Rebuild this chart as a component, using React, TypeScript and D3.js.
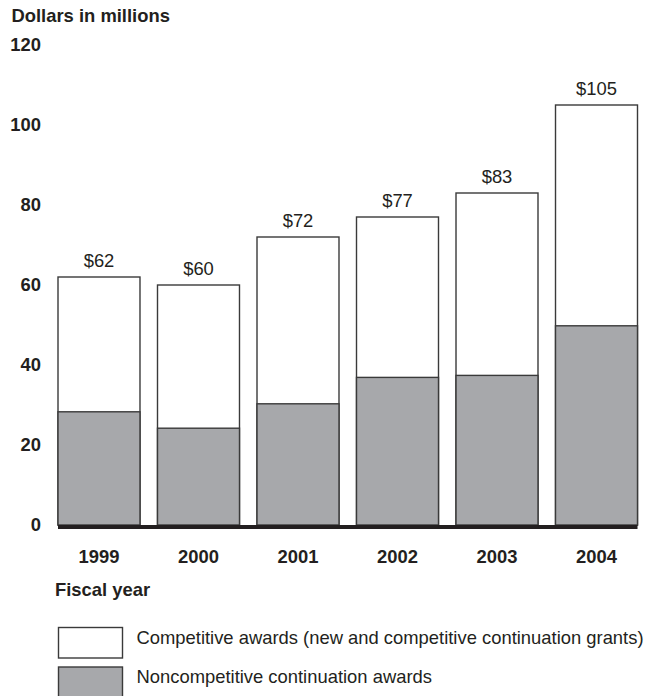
import * as React from 'react';
import * as d3 from 'd3';

const years = ['1999', '2000', '2001', '2002', '2003', '2004'];
const totals = [62, 60, 72, 77, 83, 105];
const noncompetitive = [28.3, 24.2, 30.3, 36.9, 37.4, 49.8];
const yTicks = [0, 20, 40, 60, 80, 100, 120];
const legendLabels = [
    'Competitive awards (new and competitive continuation grants)',
    'Noncompetitive continuation awards',
];

const W = 647;
const H = 696;
const FONT = '"Liberation Sans", Arial, Helvetica, sans-serif';
const FS = 18.4;
const GRAY = '#a7a8ab';
const EDGE = '#3a3a3a';
const INK = '#231f20';

export default function App() {
    const x = d3.scaleBand<string>()
        .domain(years)
        .range([58, 637.5])
        .paddingInner(0.176)
        .paddingOuter(0);

    const y = d3.scaleLinear()
        .domain([0, 120])
        .range([525, 45]);

    const bw = x.bandwidth();

    return (
        <svg width={W} height={H} style={{ position: 'absolute', left: 0, top: 0 }} fontFamily={FONT}>
            <rect width={W} height={H} fill="#fff" />

            <text x={11.5} y={22} fontSize={FS} fontWeight="bold" fill={INK}>Dollars in millions</text>

            {/* y tick labels */}
            {yTicks.map(t => (
                <text key={t} x={41} y={y(t) + 6} textAnchor="end" fontSize={FS} fontWeight="bold" fill={INK}>
                    {t}
                </text>
            ))}

            {/* stacked bars: white total with gray noncompetitive part at the bottom */}
            {years.map((yr, i) => {
                const x0 = x(yr) as number;
                return (
                    <g key={yr}>
                        <rect x={x0} y={y(totals[i])} width={bw} height={y(0) - y(totals[i])}
                            fill="#fff" stroke={EDGE} strokeWidth={1.4} />
                        <rect x={x0} y={y(noncompetitive[i])} width={bw} height={y(0) - y(noncompetitive[i])}
                            fill={GRAY} stroke={EDGE} strokeWidth={1.4} />
                        <text x={x0 + bw / 2} y={y(totals[i]) - 10} textAnchor="middle" fontSize={FS} fill={INK}>
                            ${totals[i]}
                        </text>
                        <text x={x0 + bw / 2} y={563} textAnchor="middle" fontSize={FS} fontWeight="bold" fill={INK}>
                            {yr}
                        </text>
                    </g>
                );
            })}

            {/* baseline */}
            <line x1={x(years[0]) as number} x2={(x(years[years.length - 1]) as number) + bw}
                y1={y(0) + 2} y2={y(0) + 2} stroke={INK} strokeWidth={4} />

            <text x={55} y={596} fontSize={FS} fontWeight="bold" fill={INK}>Fiscal year</text>

            {/* legend */}
            {legendLabels.map((lab, i) => (
                <g key={lab}>
                    <rect x={58.5} y={627.5 + i * 39.5} width={64} height={30.5}
                        fill={i === 0 ? '#fff' : GRAY} stroke={EDGE} strokeWidth={1.4} />
                    <text x={136.5} y={644 + i * 38.5} fontSize={FS} fill={INK}>{lab}</text>
                </g>
            ))}
        </svg>
    );
}
